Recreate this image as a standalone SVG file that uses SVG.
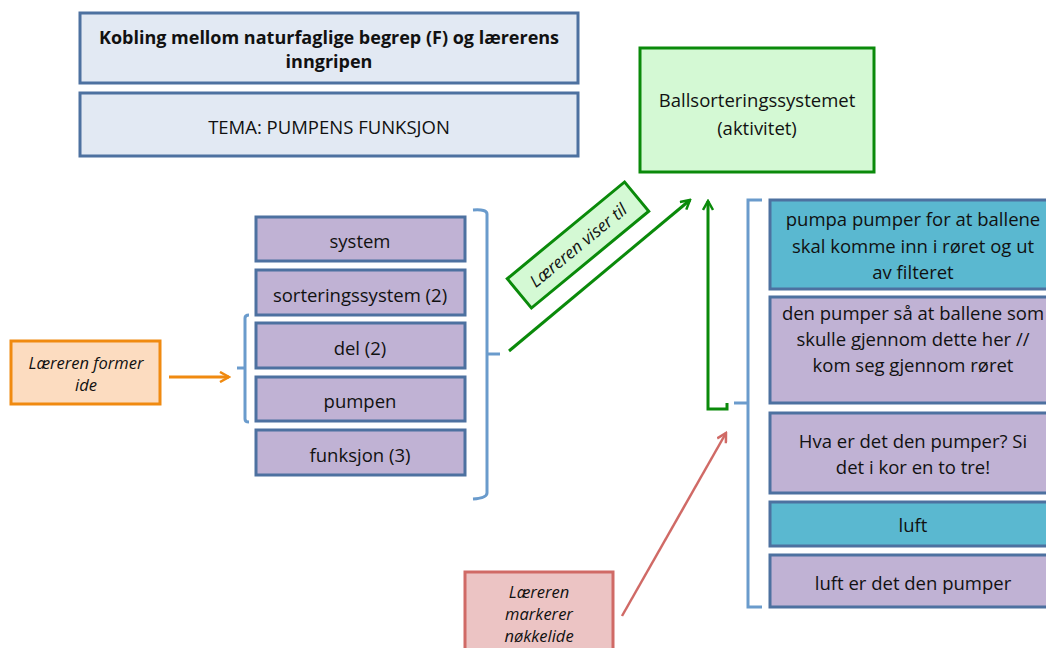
<svg xmlns="http://www.w3.org/2000/svg" width="1046" height="648" viewBox="0 0 1046 648">
  <style>
    text { font-family: "Open Sans", "Liberation Sans", sans-serif; fill: #111; text-anchor: middle; dominant-baseline: central; }
    .hdr { fill: #e2e9f3; stroke: #4d71a0; stroke-width: 3; }
    .term { fill: #c0b2d4; stroke: #4d71a0; stroke-width: 3; }
    .key { fill: #5ab8d0; stroke: #4d71a0; stroke-width: 3; }
    .act { fill: #d4f9d4; stroke: #0a8a0a; stroke-width: 3; }
    .orange { fill: #fcdcc0; stroke: #f08a10; stroke-width: 3; }
    .red { fill: #ecc4c4; stroke: #d06a66; stroke-width: 3; }
    .brace { fill: none; stroke: #6a9bcc; stroke-width: 3; }
    .t16 { font-size: 18.5px; }
    .tb { font-size: 18px; font-weight: bold; }
    .it { font-style: italic; font-size: 16.5px; }
  </style>
  <defs>
    <marker id="chevGreen" viewBox="0 0 12 12" refX="10" refY="6" markerWidth="12" markerHeight="12" markerUnits="userSpaceOnUse" orient="auto">
      <path d="M1,1 L10,6 L1,11" fill="none" stroke="#0a8a0a" stroke-width="2.5"/>
    </marker>
    <marker id="chevOrange" viewBox="0 0 12 12" refX="10" refY="6" markerWidth="12" markerHeight="12" markerUnits="userSpaceOnUse" orient="auto">
      <path d="M1,1 L10,6 L1,11" fill="none" stroke="#f08a10" stroke-width="2.5"/>
    </marker>
    <marker id="chevRed" viewBox="0 0 12 12" refX="10" refY="6" markerWidth="12" markerHeight="12" markerUnits="userSpaceOnUse" orient="auto">
      <path d="M1,1 L10,6 L1,11" fill="none" stroke="#d06a66" stroke-width="2.5"/>
    </marker>
  </defs>

  <!-- heading boxes -->
  <g id="title">
    <rect class="hdr" x="80" y="13" width="498" height="70"/>
    <text class="tb" x="329" y="37">Kobling mellom naturfaglige begrep (F) og lærerens</text>
    <text class="tb" x="329" y="61">inngripen</text>
  </g>
  <g id="theme">
    <rect class="hdr" x="80" y="93" width="498" height="63"/>
    <text class="t16" x="329" y="126">TEMA: PUMPENS FUNKSJON</text>
  </g>

  <!-- activity -->
  <g id="activity">
    <rect class="act" x="640" y="48" width="234" height="124"/>
    <text class="t16" x="757" y="99">Ballsorteringssystemet</text>
    <text class="t16" x="757" y="127">(aktivitet)</text>
  </g>

  <!-- concept terms -->
  <g id="term-system">
    <rect class="term" x="256" y="217" width="209" height="44"/>
    <text class="t16" x="360" y="240">system</text>
  </g>
  <g id="term-sorteringssystem">
    <rect class="term" x="256" y="270" width="209" height="45"/>
    <text class="t16" x="360" y="294">sorteringssystem (2)</text>
  </g>
  <g id="term-del">
    <rect class="term" x="256" y="323" width="209" height="45"/>
    <text class="t16" x="360" y="347">del (2)</text>
  </g>
  <g id="term-pumpen">
    <rect class="term" x="256" y="377" width="209" height="44"/>
    <text class="t16" x="360" y="400">pumpen</text>
  </g>
  <g id="term-funksjon">
    <rect class="term" x="256" y="430" width="209" height="45"/>
    <text class="t16" x="360" y="454">funksjon (3)</text>
  </g>

  <!-- teacher actions -->
  <g id="forms-idea">
    <rect class="orange" x="11" y="341" width="149" height="63"/>
    <text class="it" x="86" y="362">Læreren former</text>
    <text class="it" x="86" y="384">ide</text>
  </g>
  <g id="points-to">
    <g transform="translate(578,245) rotate(-39.5)">
      <rect class="act" x="-76" y="-19" width="152" height="38"/>
      <text class="it" x="0" y="0" style="font-size:17px">Læreren viser til</text>
    </g>
  </g>
  <g id="key-idea">
    <rect class="red" x="465" y="572" width="148" height="90"/>
    <text class="it" x="539" y="591">Læreren</text>
    <text class="it" x="539" y="613">markerer</text>
    <text class="it" x="539" y="635">nøkkelide</text>
  </g>

  <!-- classroom utterances -->
  <g id="utt-1">
    <rect class="key" x="770" y="200" width="286" height="89"/>
    <text class="t16" x="913" y="218">pumpa pumper for at ballene</text>
    <text class="t16" x="913" y="245">skal komme inn i røret og ut</text>
    <text class="t16" x="913" y="271">av filteret</text>
  </g>
  <g id="utt-2">
    <rect class="term" x="770" y="297" width="286" height="106"/>
    <text class="t16" x="913" y="312">den pumper så at ballene som</text>
    <text class="t16" x="913" y="338">skulle gjennom dette her //</text>
    <text class="t16" x="913" y="364">kom seg gjennom røret</text>
  </g>
  <g id="utt-3">
    <rect class="term" x="770" y="413" width="286" height="80"/>
    <text class="t16" x="913" y="440">Hva er det den pumper? Si</text>
    <text class="t16" x="913" y="466">det i kor en to tre!</text>
  </g>
  <g id="utt-4">
    <rect class="key" x="770" y="502" width="286" height="44"/>
    <text class="t16" x="913" y="524">luft</text>
  </g>
  <g id="utt-5">
    <rect class="term" x="770" y="555" width="286" height="52"/>
    <text class="t16" x="913" y="582">luft er det den pumper</text>
  </g>

  <!-- brackets and arrows -->
  <g id="connectors">
    <path class="brace" d="M473,210 Q487,209 487,214 V493 Q487,498 473,499"/>
    <path class="brace" d="M487,354 H500"/>
    <path class="brace" d="M249,315 Q245,315 245,318 V419 Q245,422 249,422"/>
    <path class="brace" d="M245,368 H237"/>
    <path class="brace" d="M762,200 H748 V607 H762"/>
    <path class="brace" d="M748,403 H734"/>

    <line x1="169" y1="377" x2="229" y2="377" stroke="#f08a10" stroke-width="3" marker-end="url(#chevOrange)"/>
    <line x1="509" y1="351" x2="690" y2="200" stroke="#0a8a0a" stroke-width="3" marker-end="url(#chevGreen)"/>
    <path d="M727,403 V409 H708 V201" fill="none" stroke="#0a8a0a" stroke-width="3" marker-end="url(#chevGreen)"/>
    <line x1="622" y1="616" x2="726" y2="433" stroke="#d06a66" stroke-width="2.5" marker-end="url(#chevRed)"/>
  </g>
</svg>
